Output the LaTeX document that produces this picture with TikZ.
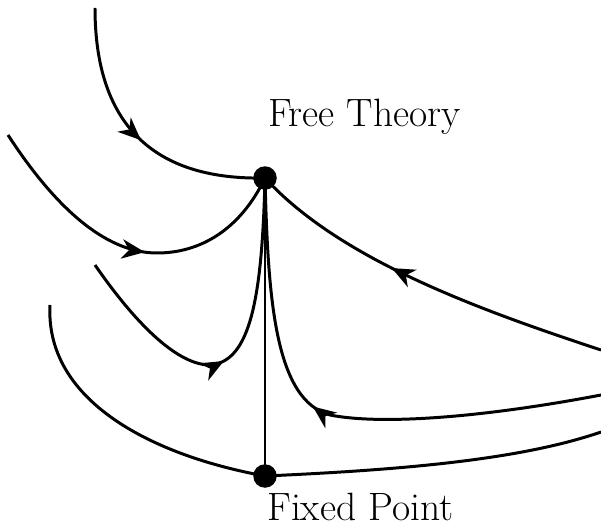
\documentclass[tikz,border=0pt]{standalone}
\usepackage{amsmath,amssymb}
\usepackage{tikz}
\usetikzlibrary{arrows.meta,positioning,calc,decorations.markings}

\tikzset{
  flowline/.style={line width=1.7pt},
  flowarrow/.style={postaction={decorate},decoration={markings,
      mark=at position #1 with {\arrow{Stealth[length=13pt,width=11pt,inset=4pt]}}}},
  fpdot/.style={circle,fill=black,inner sep=0pt,minimum size=0.47cm},
  fplabel/.style={anchor=base west,font=\fontsize{22.5}{27}\selectfont},
}

\begin{document}
\begin{tikzpicture}[x=0.02cm,y=-0.02cm]
  \useasboundingbox (0,0) rectangle (601,523); % 全体の大きさ
  \node[fpdot] (free) at (265,178) {}; % 自由理論の点
  \node[fpdot] (fixed) at (265,476) {}; % 固定点
  \node[fplabel] (freelabel) at (262,127) {Free Theory}; % 上のラベル
  \node[fplabel] (fixedlabel) at (261,520) {Fixed Point}; % 下のラベル（下端で切れる）
  \coordinate (a0) at (95,8); % 左上の曲線の始点
  \coordinate (b0) at (8,135);
  \coordinate (c0) at (95,265);
  \coordinate (d0) at (601,395);
  \coordinate (e0) at (601,350);
  \coordinate (f0) at (50,305);
  \coordinate (g1) at (601,432);
  \draw[flowline,flowarrow=0.52] (a0) .. controls (95,140) and (170,180) .. (free.center); % 上から自由理論へ
  \draw[flowline,flowarrow=0.55] (b0) .. controls (60,215) and (110,253) .. (157,253)
    .. controls (200,253) and (240,230) .. (free.center); % 左から下がって戻る流れ
  \draw[flowline,flowarrow=0.47] (c0) .. controls (140,330) and (180,365) .. (210,365)
    .. controls (250,362) and (262,300) .. (free.center); % 左下から戻る流れ
  \draw[flowline,flowarrow=0.55] (d0) .. controls (480,418) and (380,425) .. (330,415)
    .. controls (275,400) and (268,300) .. (free.center); % 右下から戻る流れ
  \draw[flowline,flowarrow=0.59] (e0) .. controls (480,310) and (340,260) .. (free.center); % 右から自由理論へ
  \draw[flowline] (f0) .. controls (45,400) and (150,455) .. (fixed.center); % 固定点へ入る曲線
  \draw[flowline] (fixed.center) .. controls (400,470) and (520,460) .. (g1); % 固定点から右へ
  \draw[flowline] (free.center) -- (fixed.center); % 二点を結ぶ直線
\end{tikzpicture}
\end{document}
